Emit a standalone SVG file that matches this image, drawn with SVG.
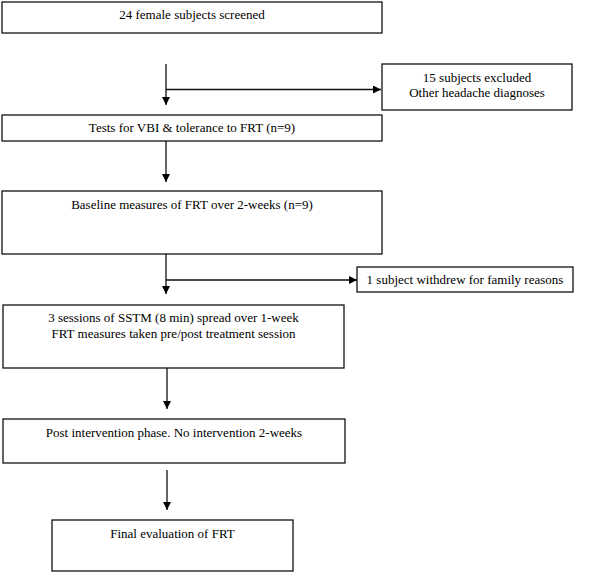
<svg xmlns="http://www.w3.org/2000/svg" width="600" height="573" viewBox="0 0 600 573">
<defs>
<marker id="ah" viewBox="0 0 10 10" refX="10" refY="5" markerWidth="8" markerHeight="8" markerUnits="userSpaceOnUse" orient="auto">
<path d="M0,0 L10,5 L0,10 z" fill="#000"/>
</marker>
<style>
rect{fill:#fff;stroke:#111;stroke-width:1.3}
text{font-size:13px;fill:#000;text-anchor:middle}
.c line{stroke:#111;stroke-width:1.3}
</style>
</defs>
<rect x="0" y="0" width="600" height="573" style="stroke:none"/>
<g class="c" id="connectors">
<line x1="166" y1="64" x2="166" y2="105" marker-end="url(#ah)"/>
<line x1="166" y1="89.5" x2="381" y2="89.5" marker-end="url(#ah)"/>
<line x1="166" y1="141" x2="166" y2="182" marker-end="url(#ah)"/>
<line x1="166" y1="254" x2="166" y2="294" marker-end="url(#ah)"/>
<line x1="166" y1="280" x2="357" y2="280" marker-end="url(#ah)"/>
<line x1="167" y1="368" x2="167" y2="409" marker-end="url(#ah)"/>
<line x1="167" y1="470" x2="167" y2="510" marker-end="url(#ah)"/>
</g>
<g font-family="Liberation Serif">
<g id="n1"><rect x="2" y="2" width="380" height="31"/><text x="192" y="19">24 female subjects screened</text></g>
<g id="n2"><rect x="382" y="64" width="190" height="46"/><text x="477" y="82">15 subjects excluded</text><text x="477" y="97">Other headache diagnoses</text></g>
<g id="n3"><rect x="2" y="115" width="380" height="26"/><text x="192" y="132">Tests for VBI &amp; tolerance to FRT (n=9)</text></g>
<g id="n4"><rect x="2" y="191" width="380" height="63"/><text x="192" y="209">Baseline measures of FRT over 2-weeks (n=9)</text></g>
<g id="n5"><rect x="357" y="267" width="216" height="25"/><text x="465" y="284">1 subject withdrew for family reasons</text></g>
<g id="n6"><rect x="3" y="305" width="341" height="63"/><text x="173.5" y="322">3 sessions of SSTM (8 min) spread over 1-week</text><text x="173.5" y="338">FRT measures taken pre/post treatment session</text></g>
<g id="n7"><rect x="3" y="419" width="342" height="44"/><text x="174" y="437">Post intervention phase. No intervention 2-weeks</text></g>
<g id="n8"><rect x="52" y="520" width="241" height="51"/><text x="172.5" y="538">Final evaluation of FRT</text></g>
</g>
</svg>
